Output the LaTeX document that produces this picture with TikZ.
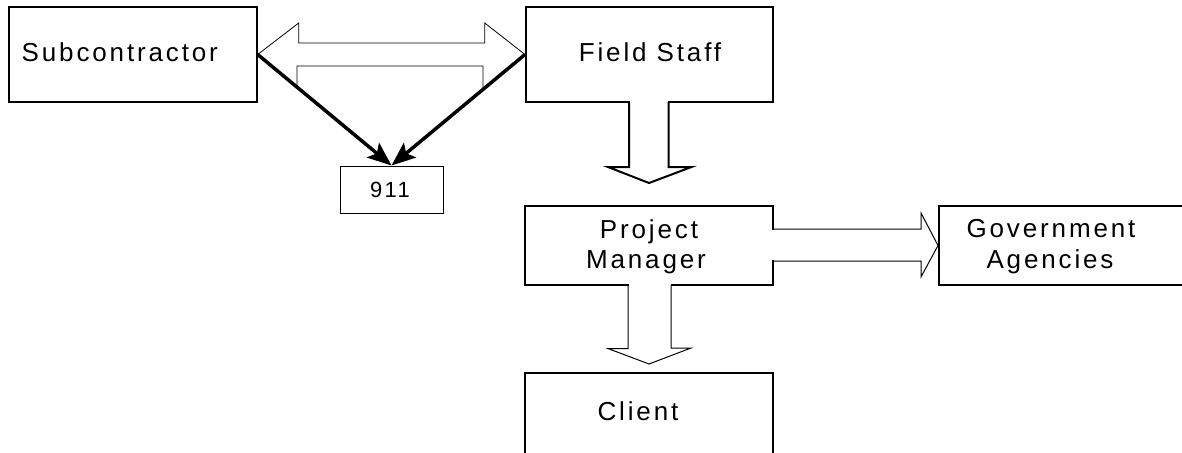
\documentclass[tikz,border=0pt]{standalone}
\usepackage{fontspec}
\setmainfont{Liberation Sans}
\newfontfamily\lsf{Liberation Sans}[LetterSpace=11]
\usetikzlibrary{arrows.meta,calc}
\begin{document}
\begin{tikzpicture}[x=1pt,y=-1pt,
  box/.style={draw, rectangle, inner sep=0pt, line width=1.1pt},
  lbl/.style={inner sep=0pt, font=\lsf\fontsize{26}{30}\selectfont},
  heavy/.style={line width=3.5pt, -{Stealth[length=24pt,width=19pt,inset=5pt]}},
  blockarrow/.style={draw, fill=white, line width=1pt, line join=miter},
  eraser/.style={fill=white, draw=none}]
\useasboundingbox (0,0) rectangle (1182,452);
\clip (0,0) rectangle (1182,452);
\fill[white] (0,0) rectangle (1182,452);
% boxes
\node[box, line width=1.4pt, minimum width=248pt, minimum height=95pt] (sub) at (133,54.5) {};
\node[box, line width=2pt, minimum width=247pt, minimum height=95pt] (field) at (649.5,54.5) {};
\node[box, line width=1pt, minimum width=103pt, minimum height=47pt] (n911) at (391.5,189.5) {};
\node[box, line width=1.1pt, minimum width=248pt, minimum height=79pt] (pm) at (649,245.5) {};
\node[box, line width=1.5pt, minimum width=270pt, minimum height=79pt, anchor=west] (gov) at (938,245.5) {};
\node[box, line width=2pt, minimum width=248pt, minimum height=110pt, anchor=north] (client) at (649,372) {};
% labels
\node[lbl, anchor=base west] (subtxt) at (21.5,62) {Subcontractor};
\node[lbl, anchor=base] (fieldtxt) at (650,62) {Field Staff};
\node[lbl, anchor=base, font=\lsf\fontsize{22}{26}\selectfont] (n911txt) at (390,197) {911};
\node[lbl, anchor=base] (pmtxt1) at (649,238) {Project};
\node[lbl, anchor=base] (pmtxt2) at (646,268) {Manager};
\node[lbl, anchor=base] (govtxt1) at (1051,237) {Government};
\node[lbl, anchor=base] (govtxt2) at (1050,268) {Agencies};
\node[lbl, anchor=base] (clienttxt) at (638,420) {Client};
% double block arrow between Subcontractor and Field Staff
\draw[blockarrow, line width=0.8pt] (sub.east) -- ++(41,-31.5) -- ++(0,20) -- ++(186,0) -- ++(0,-20)
  -- (field.west) -- ++(-42,34.8) -- ++(0,-23.3) -- ++(-186,0) -- ++(0,22.5) -- cycle;
% heavy arrows to 911
\draw[heavy] (sub.east) -- (n911.north);
\draw[heavy] (field.west) -- (n911.north);
% block arrow Field Staff -> Project Manager
\fill[eraser] ($(field.south)+(-19.5,-2.5)$) rectangle ($(field.south)+(18.5,2.5)$);
\draw[blockarrow, fill=none, line width=2pt] ($(field.south)+(-20.5,-1)$) -- ++(0,65) -- ++(-21,0)
  -- ($(field.south)+(-0.5,80)$) -- ++(42.5,-16) -- ++(-23,0) -- ++(0,-65);
% block arrow Project Manager -> Client
\fill[eraser] ($(pm.south)+(-20.5,-2)$) rectangle ($(pm.south)+(21.5,2)$);
\draw[blockarrow, fill=none] ($(pm.south)+(-21,-0.5)$) -- ++(0,63.5) -- ++(-20,0)
  -- (649,364) -- ++(42,-16) -- ++(-20,0) -- ++(0,-63.5);
% block arrow Project Manager -> Government Agencies
\fill[eraser] (771,229.6) rectangle (775,260.4);
\draw[blockarrow, fill=none] (772.5,229) -- (921,229) -- (921,213) -- (gov.west)
  -- (921,277) -- (921,261) -- (772.5,261);
\end{tikzpicture}
\end{document}
